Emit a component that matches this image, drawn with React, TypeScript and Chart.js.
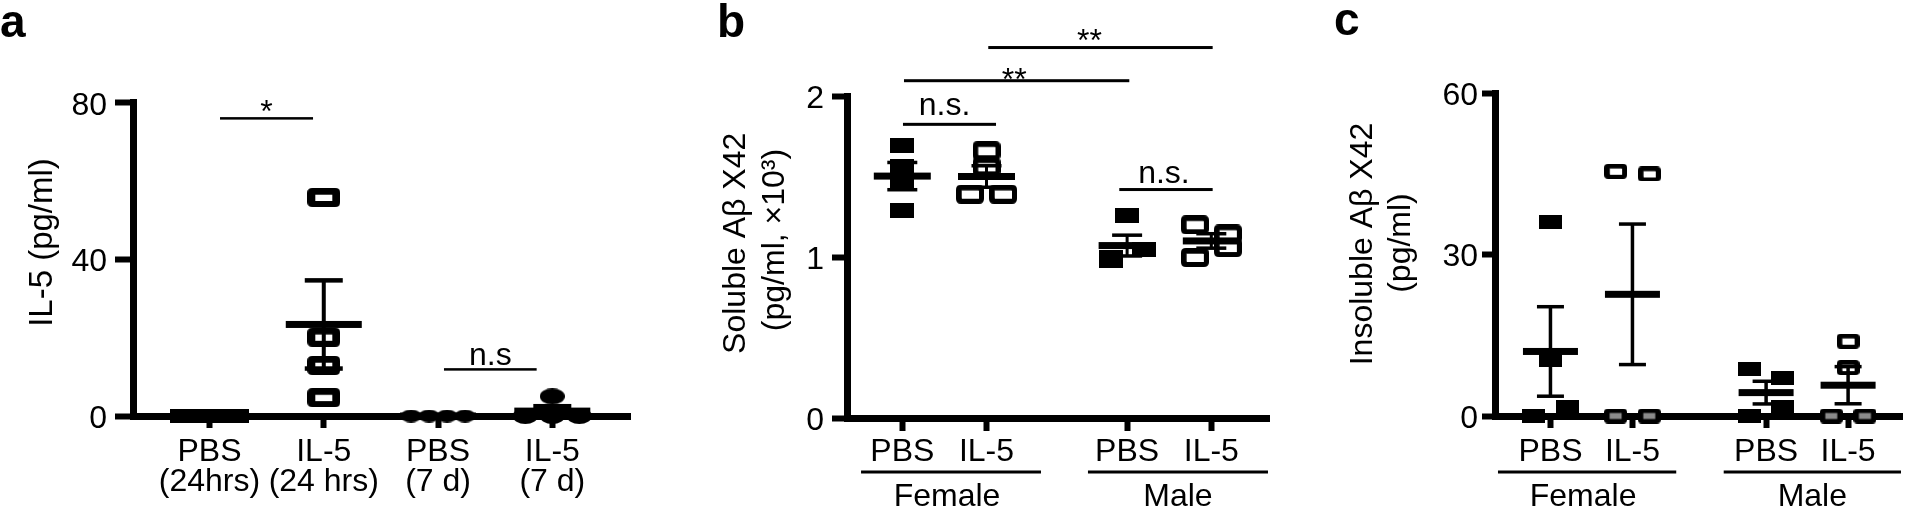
import React, { useEffect, useRef } from "react";
import { Chart, registerables } from "chart.js";

Chart.register(...registerables);

const FONT = "'Liberation Sans', Arial, Helvetica, sans-serif";
const H = 510;

// ===== Panel a: IL-5 (pg/ml) =====
const aTickLabels = [["PBS", "(24hrs)"], ["IL-5", "(24 hrs)"], ["PBS", "(7 d)"], ["IL-5", "(7 d)"]];
const aPBS24h = [0, 0, 0, 0];
const aIL5_24h = [55.8, 20.1, 12.9, 4.7];
const aPBS7d = [0, 0, 0, 0];
const aIL5_7d = [5.0, 0, 0, 0];
const aYTicks = [0, 40, 80];

// ===== Panel b: Soluble Aβ X42 (pg/ml, ×10³) =====
const bTickLabels = ["PBS", "IL-5", "PBS", "IL-5"];
const bGroupLabels = ["Female", "Male"];
const bFemalePBS = [1.69, 1.565, 1.466, 1.289];
const bFemaleIL5 = [1.66, 1.56, 1.39, 1.39];
const bMalePBS = [1.26, 0.997, 1.047, 0.98];
const bMaleIL5 = [1.2, 1.143, 0.997, 1.059];
const bYTicks = [0, 1, 2];

// ===== Panel c: Insoluble Aβ X42 (pg/ml) =====
const cTickLabels = ["PBS", "IL-5", "PBS", "IL-5"];
const cGroupLabels = ["Female", "Male"];
const cFemalePBS = [36.0, 10.4, 0, 1.6];
const cFemaleIL5 = [45.5, 45.0, 0, 0];
const cMalePBS = [8.8, 7.0, 0, 1.6];
const cMaleIL5 = [13.9, 9.0, 0, 0];
const cYTicks = [0, 30, 60];

type Kind = "filled" | "open" | "ellipse";
type Marker = { kind: Kind; w: number; h: number; holeW?: number; holeH?: number; r?: number };
type Group = { values: number[]; marker: Marker };
type Annot = { x1: number; x2: number; y: number; text: string; dx: number; off: number; lw: number };
type Under = { x1: number; x2: number; text: string; dx: number };

type Panel = {
  key: string;
  left: number;
  width: number;
  area: { left: number; right: number; top: number; bottom: number };
  cat0: number;
  unit: number;
  positions: number[];
  tickLabels: (string | string[])[];
  yMax: number;
  yTicks: number[];
  yTick: { len: number; pad: number };
  xTick: { len: number; pad: number };
  groups: Group[];
  jitter: number;
  bars: { meanW: number; meanT: number; capW: number; capT: number; semT: number };
  title: { lines: string[]; baselines: number[]; centers: number[]; size: number };
  letter: { text: string; x: number; y: number };
  annotations: Annot[];
  under: Under[];
};

const panels: Panel[] = [
  {
    key: "a",
    left: 0,
    width: 660,
    area: { left: 133, right: 630, top: 102.7, bottom: 416 },
    cat0: 209.5,
    unit: 114.27,
    positions: [0, 1, 2, 3],
    tickLabels: aTickLabels,
    yMax: 80,
    yTicks: aYTicks,
    yTick: { len: 18, pad: 8 },
    xTick: { len: 12, pad: 9 },
    groups: [
      { values: aPBS24h, marker: { kind: "filled", w: 25, h: 14 } },
      { values: aIL5_24h, marker: { kind: "open", w: 33, h: 19, holeW: 17, holeH: 6, r: 5 } },
      { values: aPBS7d, marker: { kind: "ellipse", w: 21, h: 13 } },
      { values: aIL5_7d, marker: { kind: "ellipse", w: 25, h: 16 } },
    ],
    jitter: 18,
    bars: { meanW: 76, meanT: 7, capW: 38, capT: 4.5, semT: 4 },
    title: { lines: ["IL-5 (pg/ml)"], baselines: [51.7], centers: [242.5], size: 33 },
    letter: { text: "a", x: 0, y: 37 },
    annotations: [
      { x1: 0.092, x2: 0.906, y: 76.0, text: "*", dx: 0, off: -3.4, lw: 2.5 },
      { x1: 2.052, x2: 2.863, y: 11.9, text: "n.s", dx: 0, off: 4.5, lw: 2.5 },
    ],
    under: [],
  },
  {
    key: "b",
    left: 660,
    width: 630,
    area: { left: 847, right: 1269, top: 96, bottom: 418 },
    cat0: 902.3,
    unit: 84.2,
    positions: [0, 1, 2.67, 3.67],
    tickLabels: bTickLabels,
    yMax: 2,
    yTicks: bYTicks,
    yTick: { len: 15, pad: 8 },
    xTick: { len: 13, pad: 6 },
    groups: [
      { values: bFemalePBS, marker: { kind: "filled", w: 24, h: 15 } },
      { values: bFemaleIL5, marker: { kind: "open", w: 28, h: 19, holeW: 17, holeH: 8, r: 5 } },
      { values: bMalePBS, marker: { kind: "filled", w: 24, h: 15 } },
      { values: bMaleIL5, marker: { kind: "open", w: 28, h: 19, holeW: 17, holeH: 8, r: 5 } },
    ],
    jitter: 16.5,
    bars: { meanW: 57, meanT: 7, capW: 30, capT: 3.5, semT: 3 },
    title: { lines: ["Soluble Aβ X42", "(pg/ml, ×10³)"], baselines: [745, 783.5], centers: [243.3, 240], size: 32 },
    letter: { text: "b", x: 717, y: 37 },
    annotations: [
      { x1: 0.008, x2: 1.113, y: 1.824, text: "n.s.", dx: -5, off: 9.3, lw: 3 },
      { x1: 2.577, x2: 3.686, y: 1.419, text: "n.s.", dx: -2, off: 6.6, lw: 3 },
      { x1: 0.02, x2: 2.696, y: 2.095, text: "**", dx: -2.5, off: -9.7, lw: 3 },
      { x1: 1.021, x2: 3.686, y: 2.301, text: "**", dx: -11, off: -3.4, lw: 3 },
    ],
    under: [
      { x1: -0.49, x2: 1.647, text: bGroupLabels[0], dx: -4 },
      { x1: 2.205, x2: 4.343, text: bGroupLabels[1], dx: 0 },
    ],
  },
  {
    key: "c",
    left: 1290,
    width: 619,
    area: { left: 1495, right: 1906, top: 93.3, bottom: 416 },
    cat0: 1551,
    unit: 82.8,
    positions: [0, 1, 2.63, 3.63],
    tickLabels: cTickLabels,
    yMax: 60,
    yTicks: cYTicks,
    yTick: { len: 13, pad: 4 },
    xTick: { len: 12, pad: 9 },
    groups: [
      { values: cFemalePBS, marker: { kind: "filled", w: 23, h: 14 } },
      { values: cFemaleIL5, marker: { kind: "open", w: 23, h: 15, holeW: 12, holeH: 6, r: 4 } },
      { values: cMalePBS, marker: { kind: "filled", w: 23, h: 14 } },
      { values: cMaleIL5, marker: { kind: "open", w: 23, h: 15, holeW: 12, holeH: 6, r: 4 } },
    ],
    jitter: 17,
    bars: { meanW: 55, meanT: 7, capW: 27, capT: 3.5, semT: 3.5 },
    title: { lines: ["Insoluble Aβ X42", "(pg/ml)"], baselines: [1371.5, 1410], centers: [244, 243], size: 32 },
    letter: { text: "c", x: 1334, y: 35 },
    annotations: [],
    under: [
      { x1: -0.64, x2: 1.534, text: cGroupLabels[0], dx: -4 },
      { x1: 2.113, x2: 4.275, text: cGroupLabels[1], dx: 0 },
    ],
  },
];

function makeMarker(m: Marker): HTMLCanvasElement {
  const c = document.createElement("canvas");
  c.width = m.w;
  c.height = m.h;
  const ctx = c.getContext("2d")!;
  ctx.fillStyle = "#000";
  if (m.kind === "filled") {
    ctx.fillRect(0, 0, m.w, m.h);
  } else if (m.kind === "ellipse") {
    ctx.beginPath();
    ctx.ellipse(m.w / 2, m.h / 2, m.w / 2, m.h / 2, 0, 0, Math.PI * 2);
    ctx.fill();
  } else {
    const r = m.r ?? 4;
    const w = m.w, h = m.h;
    ctx.beginPath();
    ctx.moveTo(r, 0);
    ctx.lineTo(w - r, 0);
    ctx.quadraticCurveTo(w, 0, w, r);
    ctx.lineTo(w, h - r);
    ctx.quadraticCurveTo(w, h, w - r, h);
    ctx.lineTo(r, h);
    ctx.quadraticCurveTo(0, h, 0, h - r);
    ctx.lineTo(0, r);
    ctx.quadraticCurveTo(0, 0, r, 0);
    ctx.closePath();
    ctx.fill();
    const hw = m.holeW!, hh = m.holeH!;
    const hx = (w - hw) / 2, hy = (h - hh) / 2;
    ctx.clearRect(hx, hy, hw, hh);
    ctx.fillStyle = "rgba(255,255,255,0.55)";
    ctx.fillRect(hx, hy, hw, hh);
  }
  return c;
}

// horizontal spreading of overlapping points (GraphPad-like scatter)
function spread(values: number[], hPx: number, pxPerY: number, d: number): number[] {
  const n = values.length;
  const idx = values.map((_, i) => i).sort((a, b) => values[a] - values[b]);
  const clusters: number[][] = [];
  let cur = [idx[0]];
  for (let k = 1; k < n; k++) {
    const gap = (values[idx[k]] - values[idx[k - 1]]) * pxPerY;
    if (gap < 0.75 * hPx) cur.push(idx[k]);
    else {
      clusters.push(cur);
      cur = [idx[k]];
    }
  }
  clusters.push(cur);
  const off = new Array(n).fill(0);
  for (const cl of clusters) {
    if (cl.length < 2) continue;
    const ordered = [...cl].sort((a, b) => a - b);
    const vals = cl.map((i) => values[i]);
    const range = (Math.max(...vals) - Math.min(...vals)) * pxPerY;
    if (cl.length >= 3 && range < 0.15 * hPx) {
      const step = (3 * d) / (cl.length - 1);
      ordered.forEach((i, k) => (off[i] = (k - (cl.length - 1) / 2) * step));
    } else {
      ordered.forEach((i, k) => (off[i] = k % 2 === 0 ? -d : d));
    }
  }
  return off;
}

function stats(v: number[]) {
  const n = v.length;
  const mean = v.reduce((a, b) => a + b, 0) / n;
  const sd = Math.sqrt(v.reduce((a, b) => a + (b - mean) * (b - mean), 0) / (n - 1));
  return { mean, sem: sd / Math.sqrt(n) };
}

function buildConfig(p: Panel): any {
  const xMin = (p.area.left - p.cat0) / p.unit;
  const xMax = (p.area.right - p.cat0) / p.unit;
  const pxPerY = (p.area.bottom - p.area.top) / p.yMax;

  const datasets = p.groups.map((g, gi) => {
    const off = spread(g.values, g.marker.h, pxPerY, p.jitter);
    const img = makeMarker(g.marker);
    return {
      type: "scatter",
      data: g.values.map((v, i) => ({ x: p.positions[gi] + off[i] / p.unit, y: v })),
      pointStyle: img,
      pointRadius: 6,
      pointHoverRadius: 6,
      clip: false,
      showLine: false,
    };
  });

  const errorBars = {
    id: "errbars_" + p.key,
    afterDatasetsDraw(chart: any) {
      const ctx = chart.ctx;
      const xs = chart.scales.x;
      const ys = chart.scales.y;
      const b = p.bars;
      ctx.save();
      ctx.fillStyle = "#000";
      p.groups.forEach((g, gi) => {
        const { mean, sem } = stats(g.values);
        const cx = xs.getPixelForValue(p.positions[gi]);
        const ym = ys.getPixelForValue(mean);
        const yt = ys.getPixelForValue(mean + sem);
        const yb = ys.getPixelForValue(mean - sem);
        ctx.fillRect(cx - b.semT / 2, yt, b.semT, yb - yt);
        ctx.fillRect(cx - b.capW / 2, yt - b.capT / 2, b.capW, b.capT);
        ctx.fillRect(cx - b.capW / 2, yb - b.capT / 2, b.capW, b.capT);
        ctx.fillRect(cx - b.meanW / 2, ym - b.meanT / 2, b.meanW, b.meanT);
      });
      ctx.restore();
    },
  };

  const deco = {
    id: "deco_" + p.key,
    afterDraw(chart: any) {
      const ctx = chart.ctx;
      const xs = chart.scales.x;
      const ys = chart.scales.y;
      const ox = p.left;
      ctx.save();
      ctx.fillStyle = "#000";
      ctx.textBaseline = "alphabetic";
      // panel letter
      ctx.font = `bold 46px ${FONT}`;
      ctx.textAlign = "left";
      ctx.fillText(p.letter.text, p.letter.x - ox, p.letter.y);
      // y-axis title
      ctx.font = `${p.title.size}px ${FONT}`;
      ctx.textAlign = "center";
      p.title.lines.forEach((t, i) => {
        ctx.save();
        ctx.translate(p.title.baselines[i] - ox, p.title.centers[i]);
        ctx.rotate(-Math.PI / 2);
        ctx.fillText(t, 0, 0);
        ctx.restore();
      });
      // significance annotations
      ctx.font = `32px ${FONT}`;
      p.annotations.forEach((a) => {
        const x1 = xs.getPixelForValue(a.x1);
        const x2 = xs.getPixelForValue(a.x2);
        const y = ys.getPixelForValue(a.y);
        ctx.fillRect(x1, y - a.lw / 2, x2 - x1, a.lw);
        ctx.fillText(a.text, (x1 + x2) / 2 + a.dx, y - a.off);
      });
      // group underlines and labels
      p.under.forEach((u) => {
        const x1 = xs.getPixelForValue(u.x1);
        const x2 = xs.getPixelForValue(u.x2);
        ctx.fillRect(x1, 470.5, x2 - x1, 3);
        ctx.fillText(u.text, (x1 + x2) / 2 + u.dx, 506);
      });
      ctx.restore();
    },
  };

  const tickFont = { family: FONT, size: 32, lineHeight: 30 / 32 };

  return {
    type: "scatter",
    data: { datasets },
    plugins: [errorBars, deco],
    options: {
      responsive: false,
      maintainAspectRatio: false,
      animation: false,
      events: [],
      layout: {
        padding: { left: 0, top: p.area.top, right: p.width - (p.area.right - p.left), bottom: 0 },
      },
      plugins: {
        legend: { display: false },
        tooltip: { enabled: false },
        title: { display: false },
      },
      scales: {
        x: {
          type: "linear",
          position: "bottom",
          min: xMin,
          max: xMax,
          afterBuildTicks: (s: any) => {
            s.ticks = p.positions.map((v) => ({ value: v }));
          },
          afterFit: (s: any) => {
            s.height = H - p.area.bottom;
          },
          grid: {
            display: true,
            drawOnChartArea: false,
            drawTicks: true,
            tickLength: p.xTick.len,
            tickWidth: 6,
            tickColor: "#000",
            color: "#000",
          },
          border: { display: true, width: 7, color: "#000" },
          ticks: {
            autoSkip: false,
            maxRotation: 0,
            minRotation: 0,
            padding: p.xTick.pad,
            color: "#000",
            font: tickFont,
            callback: (_v: any, i: number) => p.tickLabels[i],
          },
        },
        y: {
          type: "linear",
          position: "left",
          min: 0,
          max: p.yMax,
          afterBuildTicks: (s: any) => {
            s.ticks = p.yTicks.map((v) => ({ value: v }));
          },
          afterFit: (s: any) => {
            s.width = p.area.left - p.left;
          },
          grid: {
            display: true,
            drawOnChartArea: false,
            drawTicks: true,
            tickLength: p.yTick.len,
            tickWidth: 6,
            tickColor: "#000",
            color: "#000",
          },
          border: { display: true, width: 7, color: "#000" },
          ticks: {
            padding: p.yTick.pad,
            labelOffset: 3,
            color: "#000",
            font: tickFont,
            callback: (v: any) => String(v),
          },
        },
      },
    },
  };
}

function PanelChart({ p }: { p: Panel }) {
  const ref = useRef<HTMLCanvasElement>(null);
  useEffect(() => {
    const canvas = ref.current!;
    const chart = new Chart(canvas, buildConfig(p));
    return () => chart.destroy();
  }, [p]);
  return (
    <canvas
      ref={ref}
      width={p.width}
      height={H}
      style={{ position: "absolute", left: p.left, top: 0, width: p.width, height: H }}
    />
  );
}

export default function App() {
  return (
    <div
      style={{
        position: "absolute",
        left: 0,
        top: 0,
        width: 1909,
        height: H,
        background: "#fff",
        overflow: "hidden",
      }}
    >
      {panels.map((p) => (
        <PanelChart key={p.key} p={p} />
      ))}
    </div>
  );
}
